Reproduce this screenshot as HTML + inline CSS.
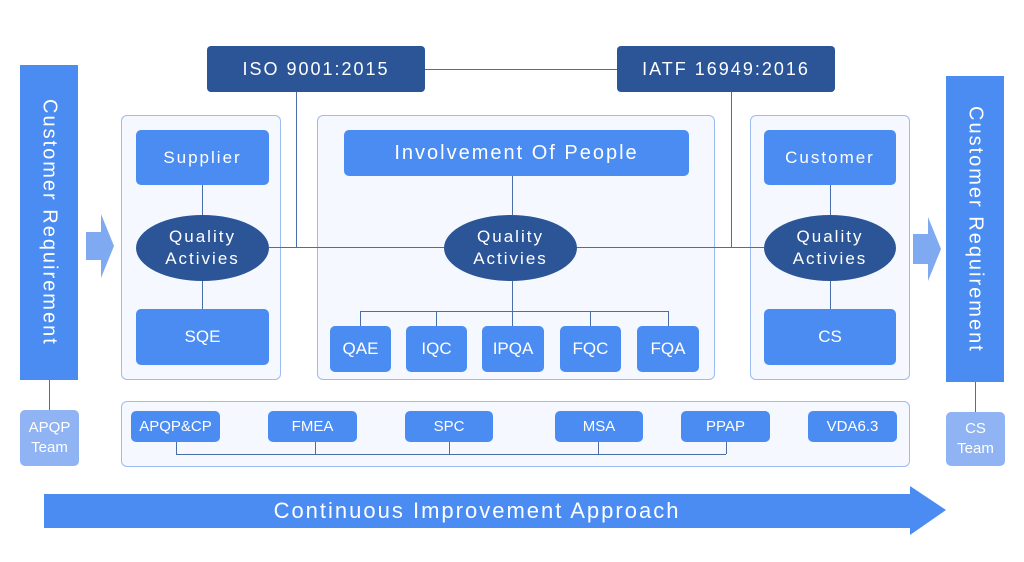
<!DOCTYPE html>
<html><head><meta charset="utf-8"><style>
body{margin:0;width:1024px;height:562px;background:#fff;position:relative;overflow:hidden;font-family:"Liberation Sans","WenQuanYi Zen Hei",sans-serif}
.a{position:absolute;box-sizing:border-box;display:flex;align-items:center;justify-content:center;color:#fff;text-align:center}
.b{background:#4a8cf2;border-radius:5px}
.d{background:#2b5597;border-radius:4px}
.p{background:#f5f8fe;border:1px solid #9dbcf0;border-radius:6px}
.e{background:#2b5597;border-radius:50%;line-height:22px;font-size:17px;letter-spacing:2px}
.v{writing-mode:vertical-rl;font-size:20px;letter-spacing:2px;background:#4a8cf2}
.l{position:absolute;background:#4a6fa8}
</style></head><body>
<div class="a v" style="left:20px;top:65px;width:58px;height:315px">Customer Requirement</div>
<div class="a" style="left:20px;top:410px;width:59px;height:56px;background:#8fb3f3;border-radius:5px;font-size:15px;line-height:20px">APQP<br>Team</div>
<div class="l" style="left:49px;top:380px;width:1px;height:30px"></div>

<div class="a v" style="left:946px;top:76px;width:58px;height:306px">Customer Requirement</div>
<div class="a" style="left:946px;top:412px;width:59px;height:54px;background:#8fb3f3;border-radius:5px;font-size:15px;line-height:20px">CS<br>Team</div>
<div class="l" style="left:975px;top:382px;width:1px;height:30px"></div>

<svg style="position:absolute;left:0;top:0" width="1024" height="562">
<polygon points="86,232 101,232 101,214 114,246 101,278 101,260 86,260" fill="#7fa9f0"/>
<polygon points="913,234 928,234 928,217 941,249 928,281 928,264 913,264" fill="#7fa9f0"/>
<polygon points="44,494 910,494 910,486 946,510 910,535 910,528 44,528" fill="#4a8cf2"/>
</svg>

<div class="l" style="left:425px;top:69px;width:192px;height:1px"></div>
<div class="l" style="left:296px;top:92px;width:1px;height:156px"></div>
<div class="l" style="left:731px;top:92px;width:1px;height:156px"></div>

<div class="a p" style="left:121px;top:115px;width:160px;height:265px"></div>
<div class="a p" style="left:317px;top:115px;width:398px;height:265px"></div>
<div class="a p" style="left:750px;top:115px;width:160px;height:265px"></div>
<div class="a p" style="left:121px;top:401px;width:789px;height:66px"></div>

<div class="l" style="left:269px;top:247px;width:495px;height:1px"></div>

<div class="a d" style="left:207px;top:46px;width:218px;height:46px;font-size:18px;letter-spacing:2px">ISO 9001:2015</div>
<div class="a d" style="left:617px;top:46px;width:218px;height:46px;font-size:18px;letter-spacing:2px">IATF 16949:2016</div>

<div class="a b" style="left:136px;top:130px;width:133px;height:55px;font-size:17px;letter-spacing:2px">Supplier</div>
<div class="l" style="left:202px;top:185px;width:1px;height:30px"></div>
<div class="a e" style="left:136px;top:215px;width:133px;height:66px">Quality<br>Activies</div>
<div class="l" style="left:202px;top:281px;width:1px;height:28px"></div>
<div class="a b" style="left:136px;top:309px;width:133px;height:56px;font-size:17px">SQE</div>

<div class="a b" style="left:344px;top:130px;width:345px;height:46px;font-size:20px;letter-spacing:2px">Involvement Of People</div>
<div class="l" style="left:512px;top:176px;width:1px;height:39px"></div>
<div class="a e" style="left:444px;top:215px;width:133px;height:66px">Quality<br>Activies</div>
<div class="l" style="left:512px;top:281px;width:1px;height:30px"></div>
<div class="l" style="left:360px;top:311px;width:309px;height:1px"></div>
<div class="l" style="left:360px;top:311px;width:1px;height:15px"></div>
<div class="l" style="left:436px;top:311px;width:1px;height:15px"></div>
<div class="l" style="left:512px;top:311px;width:1px;height:15px"></div>
<div class="l" style="left:590px;top:311px;width:1px;height:15px"></div>
<div class="l" style="left:668px;top:311px;width:1px;height:15px"></div>
<div class="a b" style="left:330px;top:326px;width:61px;height:46px;font-size:17px">QAE</div>
<div class="a b" style="left:406px;top:326px;width:61px;height:46px;font-size:17px">IQC</div>
<div class="a b" style="left:482px;top:326px;width:62px;height:46px;font-size:17px">IPQA</div>
<div class="a b" style="left:560px;top:326px;width:61px;height:46px;font-size:17px">FQC</div>
<div class="a b" style="left:637px;top:326px;width:62px;height:46px;font-size:17px">FQA</div>

<div class="a b" style="left:764px;top:130px;width:132px;height:55px;font-size:17px;letter-spacing:2px">Customer</div>
<div class="l" style="left:830px;top:185px;width:1px;height:30px"></div>
<div class="a e" style="left:764px;top:215px;width:132px;height:66px">Quality<br>Activies</div>
<div class="l" style="left:830px;top:281px;width:1px;height:28px"></div>
<div class="a b" style="left:764px;top:309px;width:132px;height:56px;font-size:17px">CS</div>

<div class="l" style="left:176px;top:454px;width:550px;height:1px"></div>
<div class="l" style="left:176px;top:442px;width:1px;height:12px"></div>
<div class="l" style="left:315px;top:442px;width:1px;height:12px"></div>
<div class="l" style="left:449px;top:442px;width:1px;height:12px"></div>
<div class="l" style="left:598px;top:442px;width:1px;height:12px"></div>
<div class="l" style="left:726px;top:442px;width:1px;height:12px"></div>
<div class="a b" style="left:131px;top:411px;width:89px;height:31px;font-size:15px">APQP&amp;CP</div>
<div class="a b" style="left:268px;top:411px;width:89px;height:31px;font-size:15px">FMEA</div>
<div class="a b" style="left:405px;top:411px;width:88px;height:31px;font-size:15px">SPC</div>
<div class="a b" style="left:555px;top:411px;width:88px;height:31px;font-size:15px">MSA</div>
<div class="a b" style="left:681px;top:411px;width:89px;height:31px;font-size:15px">PPAP</div>
<div class="a b" style="left:808px;top:411px;width:89px;height:31px;font-size:15px">VDA6.3</div>

<div class="a" style="left:44px;top:494px;width:866px;height:34px;font-size:22px;letter-spacing:2px">Continuous Improvement Approach</div>
</body></html>
